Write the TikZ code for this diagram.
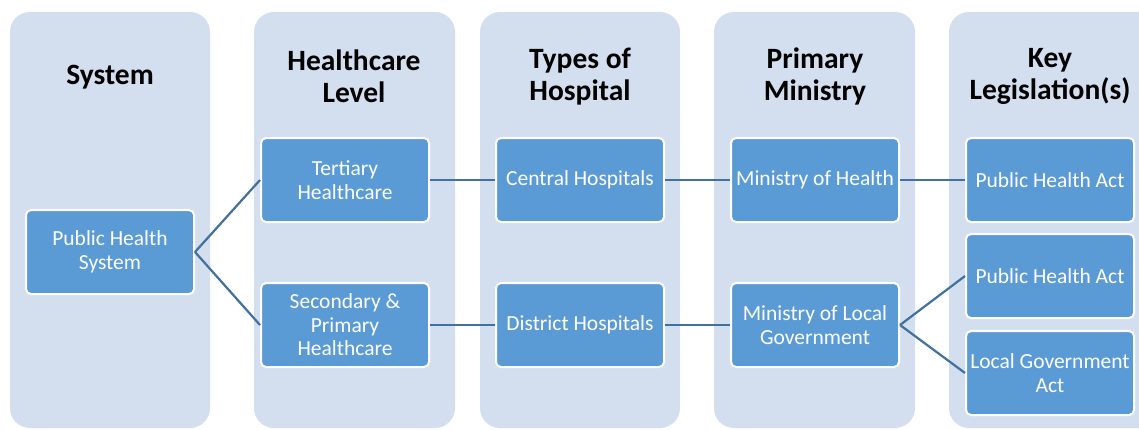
\documentclass[tikz,border=0pt]{standalone}
\usepackage{fontspec}
\setmainfont{Carlito}
\usepackage{tikz}
\usetikzlibrary{positioning,calc}
\definecolor{colbg}{HTML}{D3DEEF}
\definecolor{boxblue}{HTML}{5B9BD5}
\definecolor{linkblue}{HTML}{41719C}

\begin{document}
\begin{tikzpicture}[x=1pt,y=-1pt,
    box/.style={rectangle, rounded corners=5pt, fill=boxblue, draw=white, line width=2pt,
        minimum width=168pt, minimum height=84pt, inner sep=1pt, align=center,
        text=white, font=\fontsize{21.5}{23.5}\selectfont},
    head/.style={align=center, font=\fontsize{29.5}{32.5}\selectfont\bfseries},
    link/.style={draw=linkblue, line width=2.2pt}]
    \useasboundingbox (0,0) rectangle (1139,429);

    % Columns
    \fill[colbg, rounded corners=20pt] (10,12) rectangle (210,428);
    \fill[colbg, rounded corners=20pt] (254,12) rectangle (455,428);
    \fill[colbg, rounded corners=20pt] (480,12) rectangle (680,428);
    \fill[colbg, rounded corners=20pt] (714,12) rectangle (915,428);
    \fill[colbg, rounded corners=20pt] (949,12) rectangle (1160,428);

    % Headers
    \node[head] (hsys) at (110,77.5) {System};
    \node[head] (hlev) at (354,76.5) {Healthcare\\Level};
    \node[head] (htyp) at (580,76.5) {Types of\\Hospital};
    \node[head] (hmin) at (815,76.5) {Primary\\Ministry};
    \node[head] (hleg) at (1050,76.5) {Key\\Legislation(s)};

    % Boxes
    \node[box] (phs) at (110,252) {Public Health\\System};
    \node[box] (tert) at (345,180) {Tertiary\\Healthcare};
    \node[box] (sec) at (345,325) {Secondary \&\\Primary\\Healthcare};
    \node[box] (central) at (580,180) {Central Hospitals};
    \node[box] (district) at (580,325) {District Hospitals};
    \node[box] (moh) at (815,180) {Ministry of Health};
    \node[box] (molg) at (815,325) {Ministry of Local\\Government};
    \node[box] (pha) at (1050,180) {Public Health Act};
    \node[box] (phb) at (1050,276) {Public Health Act};
    \node[box] (lga) at (1050,373) {Local Government\\Act};

    % Links
    \draw[link] (phs.east) -- (tert.west);
    \draw[link] (phs.east) -- (sec.west);
    \draw[link] (tert) -- (central);
    \draw[link] (sec) -- (district);
    \draw[link] (central) -- (moh);
    \draw[link] (district) -- (molg);
    \draw[link] (moh) -- (pha);
    \draw[link] (molg.east) -- (phb.west);
    \draw[link] (molg.east) -- (lga.west);
\end{tikzpicture}
\end{document}
